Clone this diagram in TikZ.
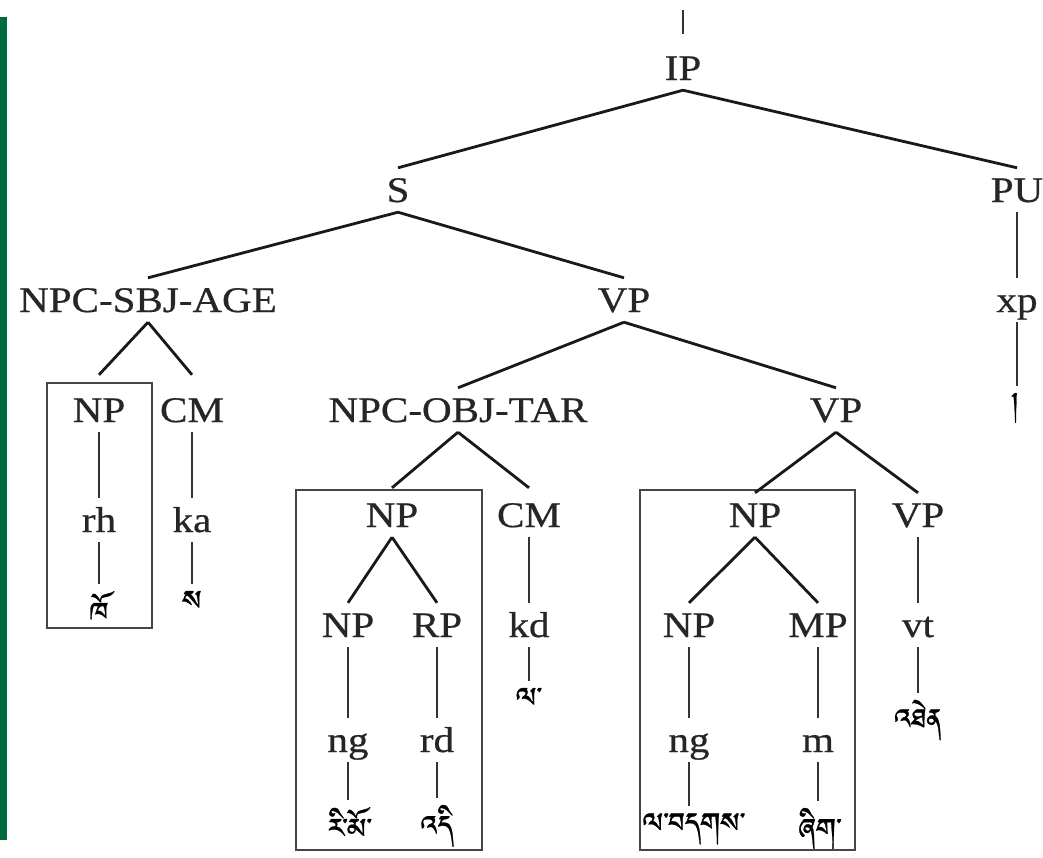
\documentclass[tikz,border=0pt]{standalone}
\usepackage{fontspec}
\setmainfont{Liberation Serif}[FakeStretch=1.14, FakeBold=0.6]
\IfFontExistsTF{Jomolhari}
  {\newfontfamily\tibfont[Script=Tibetan, FakeBold=0.8]{Jomolhari}}
  {\IfFontExistsTF{Tibetan Machine Uni}
    {\newfontfamily\tibfont[Script=Tibetan, FakeBold=0.8]{Tibetan Machine Uni}}
    {\IfFontExistsTF{FreeSerif}
      {\newfontfamily\tibfont[Script=Tibetan, FakeBold=0.8]{FreeSerif}}
      {\newfontfamily\tibfont{DejaVu Sans}}}}
\definecolor{barGreen}{RGB}{0,107,60}
\definecolor{boxGray}{RGB}{70,70,70}
\begin{document}
\begin{tikzpicture}[x=1pt,y=-1pt,
  lbl/.style={font=\fontsize{36}{40}\selectfont, text=black!85, inner xsep=2pt, inner ysep=10pt,
              text height=24pt, text depth=0pt},
  tib/.style={font=\tibfont\fontsize{35}{38}\selectfont, inner sep=1pt},
  br/.style={line width=2.8pt, draw=black!90},
  vl/.style={line width=1.4pt, draw=black!80},
  vlt/.style={vl, shorten >=6pt},
  bx/.style={draw=boxGray, line width=1.4pt}]
\useasboundingbox (0,0) rectangle (1043,857);
\fill[barGreen] (0,17) rectangle (7,840);
% nodes
\coordinate (top) at (683,10);
\node[lbl] (IP) at (683,68) {IP};
\node[lbl] (S) at (398,190) {S};
\node[lbl] (PU) at (1017,190) {PU};
\node[lbl] (NPCS) at (148,300) {NPC-SBJ-AGE};
\node[lbl] (VP1) at (624,300) {VP};
\node[lbl] (xp) at (1017,300) {xp};
\node[tib] (shad) at (1015,408) {།};
\node[lbl] (NP1) at (99,410) {NP};
\node[lbl] (CM1) at (192,410) {CM};
\node[lbl] (rh) at (99,520) {rh};
\node[lbl] (ka) at (192,520) {ka};
\node[tib] (kho) at (99,610) {ཁོ};
\node[tib] (sa) at (192,604) {ས};
\node[lbl] (NPCO) at (458,410) {NPC-OBJ-TAR};
\node[lbl] (VP2) at (836,410) {VP};
\node[lbl] (NP2) at (392,515) {NP};
\node[lbl] (CM2) at (529,515) {CM};
\node[lbl] (NP3) at (348,625) {NP};
\node[lbl] (RP) at (437,625) {RP};
\node[lbl] (kd) at (529,625) {kd};
\node[lbl] (ngA) at (348,740) {ng};
\node[lbl] (rd) at (437,740) {rd};
\node[tib] (la) at (529,701) {ལ་};
\node[tib] (rimo) at (350,826) {རི་མོ་};
\node[tib] (di) at (437,826) {འདི};
\node[lbl] (NP4) at (755,515) {NP};
\node[lbl] (VP3) at (918,515) {VP};
\node[lbl] (NP5) at (689,625) {NP};
\node[lbl] (MPn) at (818,625) {MP};
\node[lbl] (vt) at (918,625) {vt};
\node[lbl] (ngB) at (689,740) {ng};
\node[lbl] (mW) at (818,740) {m};
\node[tib] (then) at (918,720) {འཐེན};
\node[tib] (lag) at (694,829) {ལ་བདགས་};
\node[tib] (zhig) at (820,829) {ཞིག་};
% boxes
\draw[bx] (47,383) rectangle (152,628);
\draw[bx] (296,490) rectangle (482,850);
\draw[bx] (640,490) rectangle (855,850);
% branches
\draw[br] (IP.south) -- (S.north);
\draw[br] (IP.south) -- (PU.north);
\draw[br] (S.south) -- (NPCS.north);
\draw[br] (S.south) -- (VP1.north);
\draw[br] (NPCS.south) -- ([yshift=13pt]NP1.north);
\draw[br] (NPCS.south) -- ([yshift=13pt]CM1.north);
\draw[br] (VP1.south) -- (NPCO.north);
\draw[br] (VP1.south) -- (VP2.north);
\draw[br] (NPCO.south) -- ([yshift=5pt]NP2.north);
\draw[br] (NPCO.south) -- ([yshift=5pt]CM2.north);
\draw[br] (VP2.south) -- (NP4.north);
\draw[br] (VP2.south) -- (VP3.north);
\draw[br] (NP2.south) -- (NP3.north);
\draw[br] (NP2.south) -- (RP.north);
\draw[br] (NP4.south) -- (NP5.north);
\draw[br] (NP4.south) -- (MPn.north);
% unary lines
\draw[vl] (top) -- ([yshift=12pt]IP.north);
\draw[vl] (PU.south) -- (xp.north);
\draw[vlt] (xp.south) -- (xp.south |- shad.north);
\draw[vl] (NP1.south) -- (rh.north);
\draw[vlt] (rh.south) -- (rh.south |- kho.north);
\draw[vl] (CM1.south) -- (ka.north);
\draw[vlt] (ka.south) -- (ka.south |- sa.north);
\draw[vl] (CM2.south) -- (kd.north);
\draw[vlt] (kd.south) -- (kd.south |- la.north);
\draw[vl] (NP3.south) -- (ngA.north);
\draw[vlt] (ngA.south) -- (ngA.south |- rimo.north);
\draw[vl] (RP.south) -- (rd.north);
\draw[vlt] (rd.south) -- (rd.south |- di.north);
\draw[vl] (VP3.south) -- (vt.north);
\draw[vlt] (vt.south) -- (vt.south |- then.north);
\draw[vl] (NP5.south) -- (ngB.north);
\draw[vlt] (ngB.south) -- (ngB.south |- lag.north);
\draw[vl] (MPn.south) -- (MPn.south |- mW.north);
\draw[vlt] (mW.south) -- (mW.south |- zhig.north);
\end{tikzpicture}
\end{document}
